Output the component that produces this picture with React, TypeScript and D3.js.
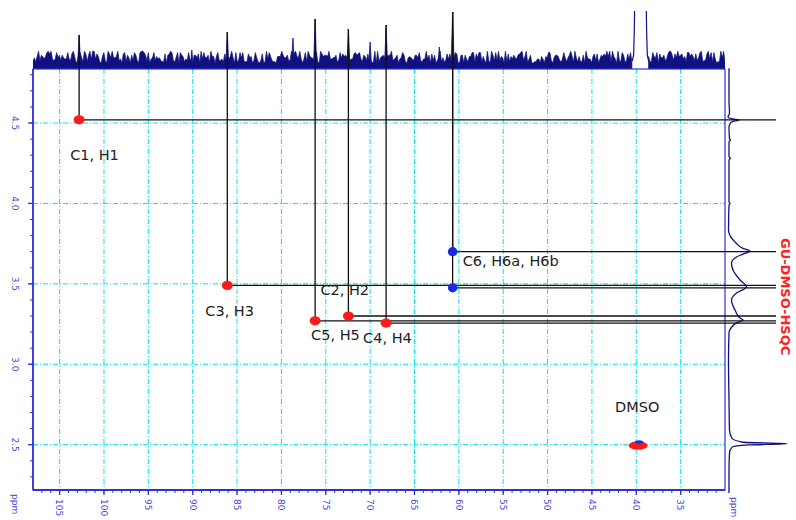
import * as d3 from "d3";

// 13C axis (ppm) and 1H axis (ppm) tick values
const carbonTicks = [105, 100, 95, 90, 85, 80, 75, 70, 65, 60, 55, 50, 45, 40, 35];
const protonTicks = [4.5, 4.0, 3.5, 3.0, 2.5];

// HSQC cross peaks
const crossLabels = ["C1, H1", "C3, H3", "C5, H5", "C2, H2", "C4, H4", "C6, H6a, H6b", "", "DMSO"];
const crossCarbon = [102.8, 86.1, 76.2, 72.45, 68.2, 60.7, 60.7, 39.8];
const crossProton = [4.52, 3.49, 3.27, 3.3, 3.256, 3.7, 3.475, 2.495];
const crossSign = [1, 1, 1, 1, 1, -1, -1, 1];

// 13C projection (top trace): sharp peaks, noise floor, broad DMSO signal
const carbonPeaks = [102.8, 90.1, 86.1, 78.7, 76.2, 72.45, 70.0, 68.2, 62.2, 60.7];
const carbonHeights = [34, 19, 37, 31, 50, 40, 27, 44, 22, 57];
const carbonNoise =
  "14159265358979323846264338327950288419716939937510582097494459230781640628620899862803482534211706798214" +
  "80865132823066470938446095505822317253594081284811174502841027019385211055596446229489549303819644288109" +
  "75665933446128475648233786783165271201909145648566923460348610454326648213393607260249141273724587006606" +
  "31558817488152092096282925409171536436789259036001133053054882046652138414695194151160943305727036575959" +
  "19530921861173819326117931051185480744623799627495673518857527248912279381830119491";
const dmsoCarbonTrace: [number, number][] = [
  [40.45, 8], [40.3, 14], [40.22, 40], [40.16, 80], [38.9, 80], [38.84, 40], [38.76, 14], [38.62, 8],
];

// 1H projection (right trace): [ppm, intensity]
const protonTrace: [number, number][] = [
  [4.84, 0], [4.64, 0], [4.562, 0.5], [4.537, -1], [4.525, 4], [4.519, 10], [4.51, 4], [4.5, 1.5],
  [4.475, 0], [4.4, 0.5], [4.394, 1.5], [4.382, 0], [4.29, 0], [4.282, 1.5], [4.27, 0],
  [4.01, 0], [4.0, 1], [3.99, 0], [3.835, -0.5], [3.754, 7], [3.72, 14], [3.704, 21], [3.685, 14],
  [3.667, 7.5], [3.629, 2.5], [3.586, 4], [3.524, 11], [3.48, 17.5], [3.443, 7.5], [3.4, 2.5],
  [3.337, 6], [3.287, 11], [3.275, 14], [3.256, 7], [3.23, 2.5], [3.194, 0], [3.026, -0.5],
  [2.777, 0], [2.59, 0.5], [2.54, 3], [2.515, 14], [2.506, 58], [2.498, 20], [2.485, 3],
  [2.45, 0.5], [2.342, 0], [2.2, 0],
];

const W = 796;
const H = 520;
const plot = { left: 33, right: 725, top: 69, bottom: 490 };
const axisBlue = "#3030e0";
const labelBlue = "#4a4ad8";
const navy = "#101080";

export default function App() {
  const x = d3.scaleLinear().domain([108, 30]).range([plot.left, plot.right]);
  const y = d3.scaleLinear().domain([4.836, 2.218]).range([plot.top, plot.bottom]);
  const topY = d3.scaleLinear().domain([0, 60]).range([plot.top, plot.top - 60]);
  const sideX = d3.scaleLinear().domain([0, 60]).range([729, 789]);

  const noise = carbonNoise.split("").map((c, i, arr) => ({
    ppm: 108 - (i * 78) / (arr.length - 1),
    h: 6 + +c * 1.3,
  }));
  const noiseArea = d3
    .area<{ ppm: number; h: number }>()
    .defined((d) => d.ppm > 40.45 || d.ppm < 38.62)
    .x((d) => x(d.ppm))
    .y0(plot.top)
    .y1((d) => topY(d.h));

  const dmsoLine = d3
    .line<[number, number]>()
    .x((d) => x(d[0]))
    .y((d) => topY(d[1]));

  const sideLine = d3
    .line<[number, number]>()
    .x((d) => sideX(d[1]))
    .y((d) => y(d[0]))
    .curve(d3.curveMonotoneY);

  const cross = crossLabels.map((label, i) => {
    const near = carbonPeaks.findIndex((c) => Math.abs(c - crossCarbon[i]) < 0.3);
    return {
      label,
      cx: x(crossCarbon[i]),
      cy: y(crossProton[i]),
      sign: crossSign[i],
      guideTop: near >= 0 ? topY(carbonHeights[near]) : null,
    };
  });

  const labelOffset: Record<string, [number, number]> = {
    "C1, H1": [-9, 40],
    "C3, H3": [-22, 31],
    "C5, H5": [-4, 19],
    "C2, H2": [-28, -21],
    "C4, H4": [-23, 20],
    "C6, H6a, H6b": [10, 14],
    DMSO: [-23, -33],
  };

  const minorC = d3.range(107, 30, -1);
  const minorH = d3.range(4.8, 2.2, -0.1);
  const guideEnd = 776;

  return (
    <div style={{ position: "absolute", left: 0, top: 0, width: W, height: H, background: "#fff" }}>
      <svg width={W} height={H} style={{ display: "block" }} fontFamily="DejaVu Sans, sans-serif">
        <defs>
          <clipPath id="topclip">
            <rect x={plot.left} y={11} width={plot.right - plot.left} height={plot.top - 11} />
          </clipPath>
        </defs>

        {/* grid */}
        {carbonTicks.map((t) => (
          <line key={"gx" + t} x1={x(t)} x2={x(t)} y1={plot.top} y2={plot.bottom}
            stroke="#00e4f0" strokeWidth={1} strokeDasharray="5,2,1,2" />
        ))}
        {protonTicks.map((t) => (
          <line key={"gy" + t} x1={plot.left} x2={plot.right} y1={y(t)} y2={y(t)}
            stroke="#00e4f0" strokeWidth={1} strokeDasharray="5,2,1,2" />
        ))}

        {/* 13C projection */}
        <g clipPath="url(#topclip)">
          <path d={noiseArea(noise) || ""} fill={navy} stroke={navy} strokeWidth={0.7} />
          {carbonPeaks.map((c, i) => (
            <path key={"cp" + i}
              d={`M${x(c) - 1.6},${plot.top}L${x(c)},${topY(carbonHeights[i])}L${x(c) + 1.6},${plot.top}Z`}
              fill={navy} stroke={navy} strokeWidth={0.8} />
          ))}
          <path d={dmsoLine(dmsoCarbonTrace) || ""} fill="none" stroke={navy} strokeWidth={1.2} />
        </g>

        {/* frame */}
        <rect x={plot.left} y={plot.top} width={plot.right - plot.left} height={plot.bottom - plot.top}
          fill="none" stroke={axisBlue} strokeWidth={1.2} />
        <line x1={plot.left} x2={plot.right} y1={plot.bottom} y2={plot.bottom} stroke={axisBlue} strokeWidth={2} />
        <line x1={plot.left} x2={plot.left} y1={plot.top} y2={plot.bottom} stroke={axisBlue} strokeWidth={1.6} />

        {/* 1H projection */}
        <path d={sideLine(protonTrace) || ""} fill="none" stroke={navy} strokeWidth={1.3} />

        {/* bottom axis ticks */}
        {minorC.map((t) => (
          <line key={"mx" + t} x1={x(t)} x2={x(t)} y1={plot.bottom} y2={plot.bottom + 3} stroke={axisBlue} />
        ))}
        {carbonTicks.map((t) => (
          <g key={"tx" + t}>
            <line x1={x(t)} x2={x(t)} y1={plot.bottom} y2={plot.bottom + 5} stroke={axisBlue} strokeWidth={1.3} />
            <text transform={`translate(${x(t)},${plot.bottom + 9}) rotate(90)`} dy="0.35em"
              fontSize={9} fill={labelBlue}>{t}</text>
          </g>
        ))}
        <text transform={`translate(15,${plot.bottom + 4}) rotate(90)`} dy="0.35em" fontSize={9} fill={labelBlue}>ppm</text>
        <text transform={`translate(734,${plot.bottom + 7}) rotate(90)`} dy="0.35em" fontSize={9} fill={labelBlue}>ppm</text>

        {/* left axis ticks */}
        {minorH.map((t) => (
          <line key={"my" + t} x1={plot.left - 3} x2={plot.left} y1={y(t)} y2={y(t)} stroke={axisBlue} />
        ))}
        {protonTicks.map((t) => (
          <g key={"ty" + t}>
            <line x1={plot.left - 5} x2={plot.left} y1={y(t)} y2={y(t)} stroke={axisBlue} strokeWidth={1.3} />
            <text transform={`translate(15,${y(t)}) rotate(90)`} dy="0.35em" textAnchor="middle"
              fontSize={9} fill={labelBlue}>{d3.format(".1f")(t)}</text>
          </g>
        ))}

        {/* guide lines */}
        {cross.filter((p) => p.guideTop !== null).map((p, i) => (
          <g key={"gl" + i}>
            <line x1={p.cx} x2={p.cx} y1={p.cy} y2={p.guideTop as number} stroke="#111" strokeWidth={1.3} />
            <line x1={p.cx} x2={guideEnd} y1={p.cy} y2={p.cy} stroke="#111" strokeWidth={1.3} />
          </g>
        ))}

        {/* cross peaks */}
        {cross.map((p, i) =>
          p.label === "DMSO" ? (
            <g key={"pk" + i}>
              <ellipse cx={p.cx} cy={p.cy} rx={9.5} ry={4.3} fill="#ff1a1a" />
              <ellipse cx={p.cx + 1} cy={p.cy - 3.5} rx={4} ry={1.6} fill="#1a2ae0" />
            </g>
          ) : (
            <ellipse key={"pk" + i} cx={p.cx} cy={p.cy} rx={p.sign > 0 ? 5.5 : 4.8} ry={4.6}
              fill={p.sign > 0 ? "#ff1a1a" : "#1a2ae0"} />
          )
        )}

        {/* labels */}
        {cross.filter((p) => p.label).map((p, i) => (
          <text key={"lb" + i} x={p.cx + labelOffset[p.label][0]} y={p.cy + labelOffset[p.label][1]}
            fontSize={14.5} fill="#222">{p.label}</text>
        ))}

        <text transform="translate(780,238) rotate(90)" fontSize={13} fontWeight="bold" fill="#ff2020"
          dy="-0.1em">GU-DMSO-HSQC</text>
      </svg>
    </div>
  );
}
